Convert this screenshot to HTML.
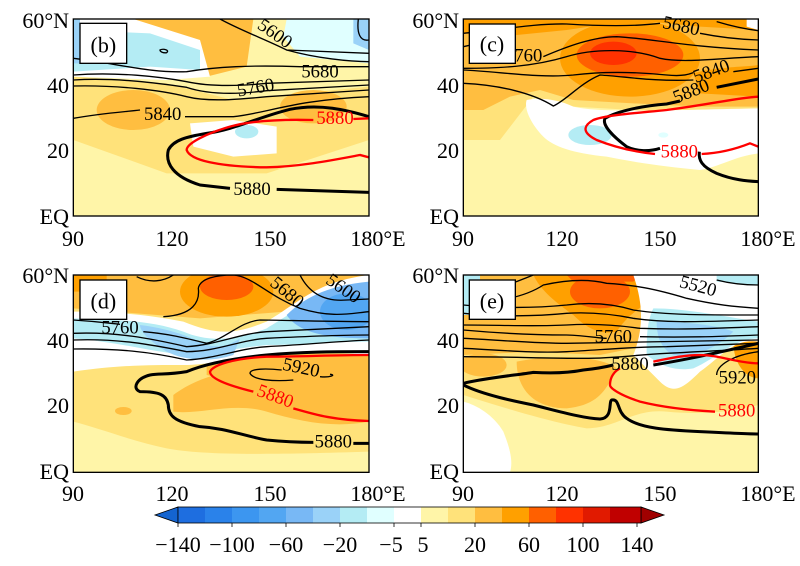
<!DOCTYPE html>
<html><head><meta charset="utf-8"><style>
html,body{margin:0;padding:0;background:#fff;}
svg{display:block;}
text{font-family:"Liberation Serif",serif;}
</style></head><body>
<svg width="800" height="566" viewBox="0 0 800 566" xmlns="http://www.w3.org/2000/svg">
<defs>
<clipPath id="cb"><rect x="220" y="57" width="887" height="591"/></clipPath>
<clipPath id="cc"><rect x="190" y="57" width="885" height="591"/></clipPath>
<clipPath id="cd"><rect x="220" y="60" width="887" height="592"/></clipPath>
<clipPath id="ce"><rect x="190" y="60" width="885" height="592"/></clipPath>
</defs>

<!-- Panel b -->
<g transform="scale(0.3333333)">
<g clip-path="url(#cb)">
<rect x="220" y="57" width="887" height="591" fill="#fff5a8"/>
<path d="M220,230 L500,250 L700,300 L1107,260 L1107,420 L800,520 L500,520 L220,420Z" fill="#ffe27a"/>
<path d="M400,57 L760,57 L740,200 L620,230 L480,180Z" fill="#ffbe40"/>
<ellipse cx="400" cy="330" rx="110" ry="60" fill="#ffbe40"/>
<ellipse cx="940" cy="320" rx="100" ry="50" fill="#ffbe40"/>
<path d="M220,57 L400,57 L600,120 L630,230 L500,240 L220,230Z" fill="#ffffff"/>
<path d="M220,90 L450,100 L600,150 L600,210 L450,200 L220,215Z" fill="#b4ecf4"/>
<path d="M860,57 L1107,57 L1107,190 L900,170 L850,110Z" fill="#e0ffff"/>
<path d="M1060,57 L1107,57 L1107,150 L1060,130Z" fill="#9ad2f8"/>
<path d="M220,57 L240,57 L240,190 L220,190Z" fill="#9ad2f8"/>
<path d="M570,370 L700,360 L830,380 L830,460 L700,470 L580,440Z" fill="#ffffff"/>
<ellipse cx="740" cy="395" rx="35" ry="20" fill="#b4ecf4"/>
<g fill="none" stroke="#000" stroke-width="4">
<path d="M660,57 C720,90 800,120 860,150 L1107,160"/>
<path d="M860,150 C950,175 1050,185 1107,185"/>
<path d="M220,175 C350,190 450,220 560,215 C650,200 750,195 900,200 L1107,200"/>
<path d="M220,225 C350,215 480,230 560,245 C620,258 700,260 800,250 L1107,240"/>
<path d="M220,240 C350,232 480,250 560,262 C620,282 700,285 800,272 L1107,255"/>
<path d="M220,258 C350,255 480,270 560,290 C620,305 700,300 800,290 L1107,270"/>
<path d="M220,355 C300,340 380,335 420,330"/>
<path d="M555,350 L700,350 C800,340 880,300 1107,290"/>
<path d="M480,150 C490,145 510,150 500,158 C490,160 480,155 480,150Z"/>
<path d="M1107,120 C1080,125 1070,100 1075,57"/>
</g>
<g fill="none" stroke="#000" stroke-width="9">
<path d="M1107,350 C1040,330 960,310 870,328 C780,350 700,390 620,400 C560,410 520,420 505,450 C495,490 520,530 600,555 L690,565"/>
<path d="M830,568 L1107,577"/>
</g>
<path d="M1107,355 L1060,357 M940,360 C860,358 760,360 690,380 C620,400 560,430 560,450 C570,480 650,500 800,502 C900,500 1000,480 1080,465 L1107,472" fill="none" stroke="#ff0000" stroke-width="7"/>
</g>
<rect x="220" y="57" width="887" height="591" fill="none" stroke="#000" stroke-width="4"/>
<rect x="240" y="70" width="140" height="120" fill="#fff" stroke="#000" stroke-width="4"/>
<text x="310" y="157" font-size="66" text-anchor="middle">(b)</text>
<g font-size="56" text-anchor="middle">
<text x="0" y="0" transform="translate(815,115) rotate(35)">5600</text>
<text x="960" y="233">5680</text>
<text x="770" y="280" transform="rotate(-10,770,280)">5760</text>
<text x="488" y="360">5840</text>
<text x="1005" y="372" fill="#ff0000">5880</text>
<text x="756" y="585">5880</text>
</g>
</g>

<!-- Panel c -->
<g transform="translate(400,0) scale(0.3333333)">
<g clip-path="url(#cc)">
<rect x="190" y="57" width="885" height="591" fill="#fff5a8"/>
<path d="M190,57 L1075,57 L1075,340 L900,350 L700,330 L520,320 L400,290 L300,420 L190,420Z" fill="#ffe27a"/>
<path d="M190,57 L1075,57 L1075,320 L900,320 L700,310 L520,300 L420,270 L330,290 L250,330 L190,330Z" fill="#ffbe40"/>
<path d="M190,57 L1075,57 L1075,90 L900,80 L700,60 L500,90 L300,110 L190,100Z" fill="#ffa000"/>
<ellipse cx="690" cy="175" rx="210" ry="115" fill="#ffa000"/>
<path d="M880,220 C950,200 1050,200 1075,195 L1075,290 L900,280Z" fill="#ffa000"/>
<ellipse cx="690" cy="165" rx="160" ry="65" fill="#ff6000"/>
<ellipse cx="640" cy="160" rx="70" ry="35" fill="#ff3200"/>
<path d="M380,300 C420,290 480,300 520,320 C600,340 800,330 1075,325 L1075,460 C1000,470 960,500 900,510 C800,500 720,490 620,470 C520,460 460,440 430,410 C400,380 370,330 380,300Z" fill="#ffffff"/>
<ellipse cx="570" cy="405" rx="65" ry="30" fill="#b4ecf4"/>
<ellipse cx="790" cy="405" rx="15" ry="8" fill="#e0ffff"/>
<path d="M1040,57 L1075,57 L1075,90 L1040,80Z" fill="#ffffff"/>
<g fill="none" stroke="#000" stroke-width="4">
<path d="M190,100 C300,90 400,70 500,72 C600,78 700,80 780,70"/>
<path d="M900,100 C950,110 1000,118 1075,120"/>
<path d="M950,65 C1000,80 1040,88 1075,92"/>
<path d="M190,140 C250,125 300,120 340,140 M430,170 C500,140 580,110 650,110 C750,115 850,140 1075,150"/>
<path d="M190,205 C300,205 400,200 500,170 C580,145 700,145 780,175 C850,190 950,175 1075,170"/>
<path d="M190,210 C300,215 420,235 520,225 C600,215 700,215 800,225 C850,230 870,222 880,218"/>
<path d="M1000,215 L1075,205"/>
<path d="M190,250 C300,255 400,280 460,318 C500,300 540,250 600,225 C680,230 760,245 880,240"/>
</g>
<g fill="none" stroke="#000" stroke-width="9">
<path d="M950,262 L1075,237"/>
<path d="M840,303 L800,312 C700,320 640,340 615,355 C605,375 640,410 680,440 C710,455 750,455 780,445"/>
<path d="M898,455 C895,480 905,500 950,520 C1000,540 1040,543 1075,545"/>
</g>
<path d="M1075,290 C1000,295 950,310 800,330 C700,340 620,345 580,360 C545,380 550,400 590,420 C640,440 700,455 765,462 M905,462 C950,460 1000,450 1050,430 L1075,440" fill="none" stroke="#ff0000" stroke-width="7"/>
</g>
<rect x="190" y="57" width="885" height="591" fill="none" stroke="#000" stroke-width="4"/>
<rect x="208" y="72" width="138" height="118" fill="#fff" stroke="#000" stroke-width="4"/>
<text x="276" y="155" font-size="66" text-anchor="middle">(c)</text>
<g font-size="56" text-anchor="middle">
<text x="0" y="0" transform="translate(840,95) rotate(12)">5680</text>
<text x="385" y="185">760</text>
<text x="0" y="0" transform="translate(940,230) rotate(-20)">5840</text>
<text x="0" y="0" transform="translate(880,290) rotate(-22)">5880</text>
<text x="838" y="472" fill="#ff0000">5880</text>
</g>
</g>

<!-- Panel d -->
<g transform="translate(0,255) scale(0.3333333)">
<g clip-path="url(#cd)">
<rect x="220" y="60" width="887" height="592" fill="#ffe27a"/>
<path d="M220,500 C300,520 400,560 500,580 C600,600 800,600 1107,590 L1107,652 L220,652Z" fill="#fff5a8"/>
<path d="M220,60 L1107,60 L1107,150 L600,190 L220,160Z" fill="#ffbe40"/>
<ellipse cx="680" cy="110" rx="140" ry="75" fill="#ffa000"/>
<ellipse cx="680" cy="95" rx="80" ry="40" fill="#ff6000"/>
<path d="M220,60 L320,60 L320,110 L220,110Z" fill="#ffa000"/>
<path d="M520,420 C600,360 700,340 850,330 C950,320 1050,330 1107,330 L1107,500 C1000,520 900,500 800,470 C700,440 600,480 520,470Z" fill="#ffbe40"/>
<path d="M620,330 C700,300 900,290 1107,300 L1107,400 L800,400 L620,360Z" fill="#ffbe40"/>
<ellipse cx="370" cy="468" rx="25" ry="12" fill="#ffbe40"/>
<path d="M220,170 C350,170 450,180 550,200 C650,240 700,240 800,200 C900,140 950,80 1107,60 L1107,300 C1000,290 900,290 800,300 C700,310 620,330 550,330 C450,330 350,330 220,350Z" fill="#ffffff"/>
<path d="M220,190 C350,195 450,195 550,230 C620,260 700,260 800,220 C900,160 960,110 1107,80 L1107,260 C1000,260 900,270 800,270 C700,280 620,300 560,300 C450,290 350,260 220,250Z" fill="#b4ecf4"/>
<path d="M420,210 C500,220 560,240 620,270 C660,280 690,270 720,250 L700,300 C640,320 560,320 500,290 C450,260 420,230 420,210Z" fill="#9ad2f8"/>
<path d="M860,180 C920,120 1000,90 1107,80 L1107,250 C1000,250 900,240 860,180Z" fill="#78b8f5"/>
<ellipse cx="1040" cy="170" rx="80" ry="55" fill="#52a6f2"/>
<g fill="none" stroke="#000" stroke-width="4">
<path d="M410,65 C450,85 490,80 520,60"/>
<path d="M490,185 C580,180 600,140 595,100 C600,70 650,60 700,60 C760,65 800,120 900,160 C1000,190 1050,175 1107,170"/>
<path d="M900,60 C930,120 980,140 1040,135 L1107,132"/>
<path d="M220,195 C300,200 330,205 360,208 M430,230 C500,235 560,250 620,265 C680,250 720,200 780,195 C850,195 950,200 1107,200"/>
<path d="M220,235 C350,230 450,250 560,275 C650,270 720,235 800,230 C900,225 1000,220 1107,215"/>
<path d="M220,255 C350,250 450,268 560,290 C650,290 720,255 800,250 C900,245 1000,240 1107,240"/>
<path d="M220,282 C350,280 450,290 560,315 C650,310 720,280 800,275 C900,270 1000,260 1107,255"/>
<path d="M845,345 C800,340 750,340 750,355 C760,375 820,380 880,375 M960,365 C990,368 1010,360 990,358"/>
</g>
<g fill="none" stroke="#000" stroke-width="9">
<path d="M1107,290 C1000,290 900,290 800,300 C700,310 620,325 560,350 C500,360 480,355 450,360 C410,370 395,400 420,410 C480,410 500,420 505,450 C505,480 520,500 600,515 C680,520 720,540 800,555 C850,560 900,562 940,562"/>
<path d="M1060,565 L1107,565"/>
</g>
<path d="M1107,300 C1000,300 900,305 800,305 C700,310 640,330 630,350 C630,370 680,390 760,410 M880,460 C950,480 1000,495 1107,498" fill="none" stroke="#ff0000" stroke-width="7"/>
</g>
<rect x="220" y="60" width="887" height="592" fill="none" stroke="#000" stroke-width="4"/>
<rect x="240" y="75" width="140" height="118" fill="#fff" stroke="#000" stroke-width="4"/>
<text x="310" y="160" font-size="66" text-anchor="middle">(d)</text>
<g font-size="56" text-anchor="middle">
<text x="0" y="0" transform="translate(850,125) rotate(40)">5680</text>
<text x="0" y="0" transform="translate(1020,115) rotate(35)">5600</text>
<text x="360" y="235">5760</text>
<text x="0" y="0" transform="translate(900,355) rotate(12)">5920</text>
<text x="0" y="0" transform="translate(820,440) rotate(20)" fill="#ff0000">5880</text>
<text x="1000" y="578">5880</text>
</g>
</g>

<!-- Panel e -->
<g transform="translate(400,255) scale(0.3333333)">
<g clip-path="url(#ce)">
<rect x="190" y="60" width="885" height="592" fill="#fff5a8"/>
<path d="M190,60 L1075,60 L1075,450 C1000,470 900,480 800,470 C700,460 650,520 560,520 C450,500 350,470 190,420Z" fill="#ffe27a"/>
<path d="M190,440 C230,450 280,480 310,530 C330,580 340,620 330,652 L190,652Z" fill="#ffffff"/>
<path d="M190,60 L1075,60 L1075,250 L800,260 L600,300 L400,290 L190,300Z" fill="#ffbe40"/>
<path d="M350,320 C450,300 600,300 650,340 C620,400 600,450 500,460 C400,460 350,400 350,320Z" fill="#ffbe40"/>
<ellipse cx="250" cy="330" rx="70" ry="35" fill="#ffbe40"/>
<path d="M400,60 L850,60 C800,120 700,150 650,230 C600,240 560,220 520,180 C450,130 420,100 400,60Z" fill="#ffa000"/>
<ellipse cx="600" cy="110" rx="90" ry="50" fill="#ff6000"/>
<path d="M500,60 L720,60 L700,80 L520,80Z" fill="#ff6000"/>
<path d="M1000,260 C1040,250 1075,250 1075,250 L1075,370 C1040,370 1000,330 1000,260Z" fill="#ffa000"/>
<path d="M190,60 L240,60 L240,180 L190,180Z" fill="#b4ecf4"/>
<path d="M700,60 L1075,60 L1075,260 C1000,250 970,300 900,350 C850,400 820,420 780,380 C740,340 720,320 700,300 C740,200 720,120 700,60Z" fill="#ffffff"/>
<path d="M760,160 C850,160 950,180 1075,200 L1075,250 C1000,250 950,310 880,340 C820,350 780,330 740,300 C740,250 740,200 760,160Z" fill="#b4ecf4"/>
<path d="M770,200 C850,200 950,210 1000,230 C950,280 880,310 820,300 C780,280 770,240 770,200Z" fill="#9ad2f8"/>
<path d="M950,60 L1075,60 L1075,90 L950,80Z" fill="#b4ecf4"/>
<g fill="none" stroke="#000" stroke-width="4">
<path d="M230,120 C300,100 350,80 400,60"/>
<path d="M270,140 C350,130 400,110 430,90 C520,70 580,75 620,85 C700,90 760,100 860,130 C950,150 1000,155 1075,160"/>
<path d="M950,75 C1000,88 1040,90 1075,90"/>
<path d="M190,150 C300,160 400,160 500,150 C580,140 650,150 700,165 C800,180 900,180 1075,180"/>
<path d="M190,175 C300,185 400,185 500,175 C580,170 650,180 700,190 C800,205 900,200 1075,195"/>
<path d="M190,210 C300,210 400,215 500,210 C580,205 650,210 720,220 C850,225 950,220 1075,215"/>
<path d="M190,225 C300,235 400,240 500,240 C560,242 600,250 620,250 M720,245 C850,248 950,245 1075,240"/>
<path d="M190,250 C300,255 400,265 500,265 C600,265 700,260 1075,255"/>
<path d="M190,280 C300,285 400,295 500,290 C600,285 700,275 800,275 C900,272 1000,268 1075,265"/>
<path d="M190,305 C300,305 450,310 550,310 C650,310 700,300 800,295 C900,290 1000,285 1075,280"/>
<path d="M950,360 C950,330 1000,300 1075,290"/>
</g>
<g fill="none" stroke="#000" stroke-width="9">
<path d="M190,385 C250,370 350,360 400,352 C450,355 500,355 550,345 C600,340 620,335 640,330"/>
<path d="M760,330 C820,320 880,310 1075,265"/>
<path d="M190,390 C250,420 350,440 400,450 C480,470 550,490 600,492 C640,490 625,440 635,435 C660,430 650,470 680,490 C720,520 800,525 900,530 C1000,535 1040,537 1075,537"/>
</g>
<path d="M760,320 C850,300 900,295 950,305 C1000,315 1040,325 1075,325 M945,470 C850,465 780,455 720,440 C660,420 630,400 630,390 C630,360 650,345 660,340" fill="none" stroke="#ff0000" stroke-width="7"/>
</g>
<rect x="190" y="60" width="885" height="592" fill="none" stroke="#000" stroke-width="4"/>
<rect x="208" y="75" width="138" height="118" fill="#fff" stroke="#000" stroke-width="4"/>
<text x="276" y="160" font-size="66" text-anchor="middle">(e)</text>
<g font-size="56" text-anchor="middle">
<text x="0" y="0" transform="translate(890,110) rotate(15)">5520</text>
<text x="640" y="262">5760</text>
<text x="690" y="345">5880</text>
<text x="1012" y="385">5920</text>
<text x="1010" y="485" fill="#ff0000">5880</text>
</g>
</g>

<!-- Axis labels -->
<g font-size="22" fill="#000">
<g text-anchor="end">
<text x="69" y="28">60°N</text><text x="69" y="93">40</text><text x="69" y="158">20</text><text x="69" y="224">EQ</text>
<text x="459" y="28">60°N</text><text x="459" y="93">40</text><text x="459" y="158">20</text><text x="459" y="224">EQ</text>
<text x="69" y="283">60°N</text><text x="69" y="348">40</text><text x="69" y="413">20</text><text x="69" y="479">EQ</text>
<text x="459" y="283">60°N</text><text x="459" y="348">40</text><text x="459" y="413">20</text><text x="459" y="479">EQ</text>
</g>
<g text-anchor="middle">
<text x="73" y="246">90</text><text x="172" y="246">120</text><text x="270" y="246">150</text><text x="378" y="246">180°E</text>
<text x="463" y="246">90</text><text x="562" y="246">120</text><text x="660" y="246">150</text><text x="768" y="246">180°E</text>
<text x="73" y="501">90</text><text x="172" y="501">120</text><text x="270" y="501">150</text><text x="378" y="501">180°E</text>
<text x="463" y="501">90</text><text x="562" y="501">120</text><text x="660" y="501">150</text><text x="768" y="501">180°E</text>
</g>
</g>

<!-- Colorbar -->
<g>
<polygon points="155,515 178,507 178,523" fill="#1464d0" stroke="#000" stroke-width="0.8"/>
<polygon points="664,515 641,507 641,523" fill="#a00000" stroke="#000" stroke-width="0.8"/>
<rect x="178" y="507" width="27.2" height="16" fill="#1e6ee0"/>
<rect x="205" y="507" width="27.2" height="16" fill="#2a82ea"/>
<rect x="232" y="507" width="27.2" height="16" fill="#3c96f0"/>
<rect x="259" y="507" width="27.2" height="16" fill="#52a6f2"/>
<rect x="286" y="507" width="27.2" height="16" fill="#78b8f5"/>
<rect x="313" y="507" width="27.2" height="16" fill="#9ad2f8"/>
<rect x="340" y="507" width="27.2" height="16" fill="#b4ecf4"/>
<rect x="367" y="507" width="27.2" height="16" fill="#e0ffff"/>
<rect x="394" y="507" width="27.2" height="16" fill="#ffffff"/>
<rect x="421" y="507" width="27.2" height="16" fill="#fff5a8"/>
<rect x="448" y="507" width="27.2" height="16" fill="#ffe27a"/>
<rect x="475" y="507" width="27.2" height="16" fill="#ffbe40"/>
<rect x="502" y="507" width="27.2" height="16" fill="#ffa000"/>
<rect x="529" y="507" width="27.2" height="16" fill="#ff6000"/>
<rect x="556" y="507" width="27.2" height="16" fill="#ff3200"/>
<rect x="583" y="507" width="27.2" height="16" fill="#e11a00"/>
<rect x="610" y="507" width="31" height="16" fill="#c00000"/>
<rect x="178" y="507" width="463" height="16" fill="none" stroke="#000" stroke-width="0.8"/>
<g stroke="#000" stroke-width="0.8">
<line x1="178" y1="523" x2="178" y2="527"/><line x1="232" y1="523" x2="232" y2="527"/><line x1="286" y1="523" x2="286" y2="527"/><line x1="340" y1="523" x2="340" y2="527"/><line x1="394" y1="523" x2="394" y2="527"/><line x1="421" y1="523" x2="421" y2="527"/><line x1="475" y1="523" x2="475" y2="527"/><line x1="529" y1="523" x2="529" y2="527"/><line x1="583" y1="523" x2="583" y2="527"/><line x1="637" y1="523" x2="637" y2="527"/>
</g>
<g font-size="22" text-anchor="middle">
<text x="178" y="552">−140</text><text x="232" y="552">−100</text><text x="286" y="552">−60</text><text x="340" y="552">−20</text><text x="391" y="552">−5</text><text x="423" y="552">5</text><text x="475" y="552">20</text><text x="529" y="552">60</text><text x="583" y="552">100</text><text x="637" y="552">140</text>
</g>
</g>
</svg>
</body></html>
